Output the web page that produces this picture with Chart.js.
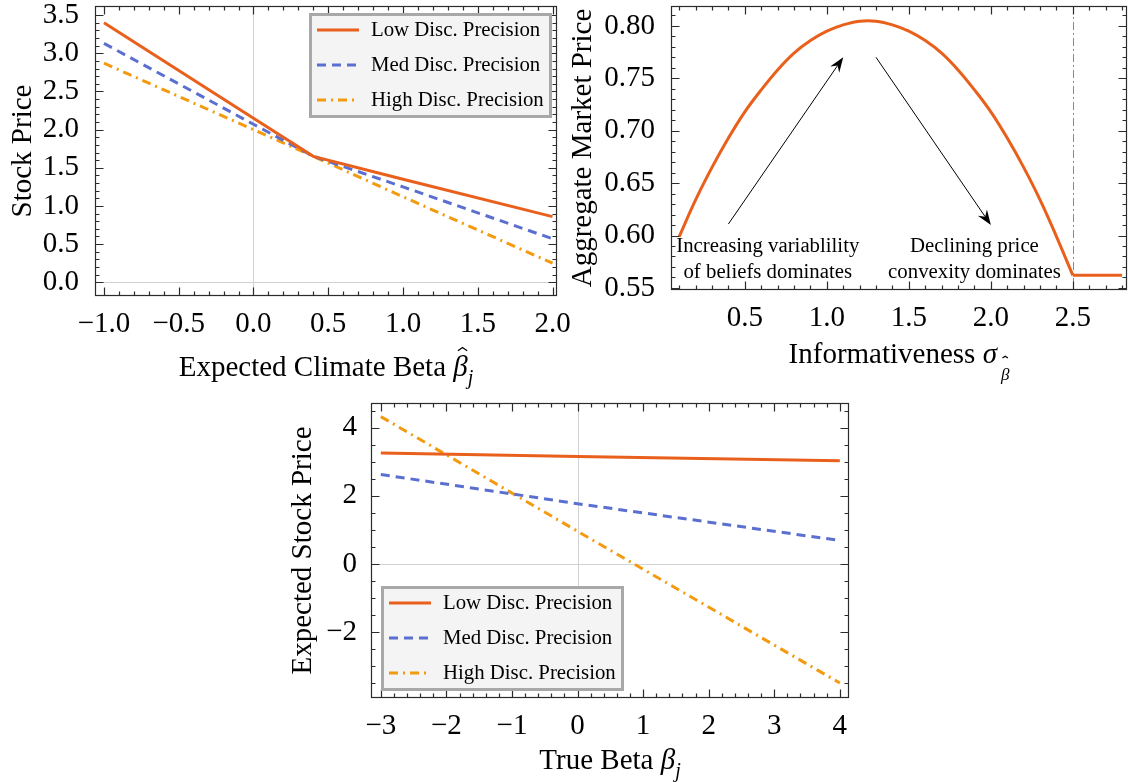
<!DOCTYPE html>
<html lang="en">
<head>
<meta charset="UTF-8">
<title>Disclosure Precision and Prices</title>
<script src="https://cdn.jsdelivr.net/npm/chart.js"></script>
<style>
  body { margin: 0; background: #fff; width: 1128px; height: 782px; position: relative; overflow: hidden; }
  canvas { position: absolute; }
  #priceChart { left: 0; top: 0; }
  #marketChart { left: 570px; top: 0; }
  #expectedChart { left: 280px; top: 400px; }
</style>
</head>
<body>
<canvas id="priceChart" width="580" height="390"></canvas>
<canvas id="marketChart" width="558" height="390"></canvas>
<canvas id="expectedChart" width="580" height="382"></canvas>
<script>
const SERIF = '"Liberation Serif", "Times New Roman", serif';
const FONT_SIZE = 29;

const seriesNames = ['Low Disc. Precision', 'Med Disc. Precision', 'High Disc. Precision'];
const seriesColors = ['#e8601c', '#5b6fd0', '#f39a0e'];
const seriesDash = [[], [9, 6], [9, 5, 2, 5]];

// top left: stock price vs expected climate beta
const betaHat = [-1, 0, 0.4, 1, 2];
const priceLow = [3.40, 2.15, 1.65, 1.35, 0.86];
const priceMed = [3.13, 2.07, 1.65, 1.25, 0.57];
const priceHigh = [2.87, 2.00, 1.65, 1.12, 0.25];
const priceXTicks = [-1, -0.5, 0, 0.5, 1, 1.5, 2];
const priceYTicks = [0, 0.5, 1, 1.5, 2, 2.5, 3, 3.5];

// top right: aggregate market price vs informativeness
const sigma = [0.1, 0.2, 0.3, 0.4, 0.5, 0.6, 0.7, 0.8, 0.9, 1.0, 1.1, 1.2, 1.3,
  1.4, 1.5, 1.6, 1.7, 1.8, 1.9, 2.0, 2.1, 2.2, 2.3, 2.4, 2.5];
const marketPrice = [0.599, 0.634, 0.665, 0.693, 0.718, 0.739, 0.758, 0.774, 0.786, 0.795,
  0.801, 0.8045, 0.8045, 0.801, 0.795, 0.786, 0.774, 0.758, 0.739, 0.718, 0.693, 0.665,
  0.634, 0.599, 0.562];
const floorSigma = [2.5, 2.8];
const floorPrice = [0.562, 0.562];
const sigmaCutoff = 2.5;
const marketXTicks = [0.5, 1, 1.5, 2, 2.5];
const marketYTicks = [0.55, 0.6, 0.65, 0.7, 0.75, 0.8];
const arrowTails = [[0.40, 0.611], [1.30, 0.770]];
const arrowHeads = [[1.10, 0.770], [2.00, 0.610]];
const noteAnchors = [[0.64, 0.589], [1.90, 0.589]];
const noteLines = [['Increasing variablility', 'of beliefs dominates'], ['Declining price', 'convexity dominates']];

// bottom: expected stock price vs true beta
const trueBeta = [-3, 0, 4];
const expLow = [3.26, 3.16, 3.03];
const expMed = [2.63, 1.77, 0.69];
const expHigh = [4.33, 0.96, -3.50];
const expXTicks = [-3, -2, -1, 0, 1, 2, 3, 4];
const expYTicks = [-2, 0, 2, 4];

function fmt(v, d) {
  return v.toFixed(d).replace('-', '\u2212');
}

function steps(from, to, step) {
  const out = [];
  for (let v = from; v <= to + 1e-9; v += step) out.push(Math.round(v * 1000) / 1000);
  return out;
}

function points(xs, ys) {
  return xs.map((x, i) => ({ x, y: ys[i] }));
}

function richFont(p, base) {
  return (p.italic ? 'italic ' : '') + (p.size || base) + 'px ' + SERIF;
}

function drawRich(ctx, parts, cx, baseline, base) {
  const widths = parts.map(p => { ctx.font = richFont(p, base); return ctx.measureText(p.t).width + (p.gap || 0); });
  let x = cx - widths.reduce((s, w) => s + w, 0) / 2;
  ctx.textAlign = 'left';
  ctx.textBaseline = 'alphabetic';
  ctx.fillStyle = '#000';
  parts.forEach((p, i) => {
    const size = p.size || base;
    const y = baseline + (p.dy || 0);
    ctx.font = richFont(p, base);
    ctx.fillText(p.t, x, y);
    if (p.hatRise) {
      const hx = x + widths[i] / 2 + (p.hatShift || 0), hy = y - p.hatRise * size;
      ctx.beginPath();
      ctx.moveTo(hx - 0.16 * size, hy + 0.11 * size);
      ctx.lineTo(hx, hy);
      ctx.lineTo(hx + 0.16 * size, hy + 0.11 * size);
      ctx.lineWidth = 1.3;
      ctx.strokeStyle = '#000';
      ctx.stroke();
    }
    x += widths[i];
  });
}

function titlesPlugin(xParts, yParts, xBaseline, yBaseline) {
  return {
    id: 'titles',
    afterDraw(chart) {
      const { ctx, chartArea: a } = chart;
      ctx.save();
      drawRich(ctx, xParts, (a.left + a.right) / 2, xBaseline, FONT_SIZE);
      ctx.translate(yBaseline, (a.top + a.bottom) / 2);
      ctx.rotate(-Math.PI / 2);
      drawRich(ctx, yParts, 0, 0, FONT_SIZE);
      ctx.restore();
    }
  };
}

function framePlugin(xMinor, yMinor, cutX) {
  return {
    id: 'frame',
    beforeDatasetsDraw(chart) {
      const { ctx, chartArea: a, scales: { x, y } } = chart;
      ctx.save();
      ctx.lineWidth = 1;
      ctx.strokeStyle = '#d2d2d2';
      if (x.min < 0 && x.max > 0) {
        const px = Math.round(x.getPixelForValue(0)) + 0.5;
        ctx.beginPath(); ctx.moveTo(px, a.top); ctx.lineTo(px, a.bottom); ctx.stroke();
      }
      if (y.min < 0 && y.max > 0) {
        const py = Math.round(y.getPixelForValue(0)) + 0.5;
        ctx.beginPath(); ctx.moveTo(a.left, py); ctx.lineTo(a.right, py); ctx.stroke();
      }
      if (cutX != null) {
        const px = Math.round(x.getPixelForValue(cutX)) + 0.5;
        ctx.strokeStyle = '#8a8a8a';
        ctx.setLineDash([8, 3, 2, 3]);
        ctx.beginPath(); ctx.moveTo(px, a.top); ctx.lineTo(px, a.bottom); ctx.stroke();
      }
      ctx.restore();
    },
    afterDatasetsDraw(chart) {
      const { ctx, chartArea: a, scales: { x, y } } = chart;
      ctx.save();
      ctx.strokeStyle = '#2b2b2b';
      ctx.lineWidth = 1.2;
      const L = Math.round(a.left) + 0.5, R = Math.round(a.right) - 0.5;
      const T = Math.round(a.top) + 0.5, B = Math.round(a.bottom) - 0.5;
      ctx.strokeRect(L, T, R - L, B - T);
      ctx.beginPath();
      const xTick = (v, len) => {
        const px = Math.round(x.getPixelForValue(v)) + 0.5;
        ctx.moveTo(px, B); ctx.lineTo(px, B - len);
        ctx.moveTo(px, T); ctx.lineTo(px, T + len);
      };
      const yTick = (v, len) => {
        const py = Math.round(y.getPixelForValue(v)) + 0.5;
        ctx.moveTo(L, py); ctx.lineTo(L + len, py);
        ctx.moveTo(R, py); ctx.lineTo(R - len, py);
      };
      xMinor.filter(v => v > x.min && v < x.max).forEach(v => xTick(v, 4));
      yMinor.filter(v => v > y.min && v < y.max).forEach(v => yTick(v, 4));
      x.ticks.forEach(t => xTick(t.value, 8));
      y.ticks.forEach(t => yTick(t.value, 8));
      ctx.stroke();
      ctx.restore();
    }
  };
}

function legendPlugin(left, top) {
  return {
    id: 'boxLegend',
    afterDatasetsDraw(chart) {
      const ctx = chart.ctx;
      ctx.save();
      ctx.fillStyle = '#f4f4f4';
      ctx.fillRect(left, top, 243, 105);
      ctx.strokeStyle = '#a8a8a8';
      ctx.lineWidth = 3;
      ctx.strokeRect(left + 1.5, top + 1.5, 240, 102);
      chart.data.datasets.forEach((ds, i) => {
        const y = top + 17 + i * 35;
        ctx.strokeStyle = ds.borderColor;
        ctx.lineWidth = 3;
        ctx.setLineDash(ds.borderDash);
        ctx.beginPath(); ctx.moveTo(left + 8, y); ctx.lineTo(left + 50, y); ctx.stroke();
        ctx.setLineDash([]);
        ctx.fillStyle = '#000';
        ctx.font = '20.8px ' + SERIF;
        ctx.textAlign = 'left';
        ctx.textBaseline = 'middle';
        ctx.fillText(ds.label, left + 62, y + 1);
      });
      ctx.restore();
    }
  };
}

const notesPlugin = {
  id: 'notes',
  afterDatasetsDraw(chart) {
    const { ctx, scales: { x, y } } = chart;
    ctx.save();
    ctx.strokeStyle = '#000';
    ctx.fillStyle = '#000';
    ctx.lineWidth = 1;
    arrowTails.forEach((tail, i) => {
      const x0 = x.getPixelForValue(tail[0]), y0 = y.getPixelForValue(tail[1]);
      const x1 = x.getPixelForValue(arrowHeads[i][0]), y1 = y.getPixelForValue(arrowHeads[i][1]);
      const ang = Math.atan2(y1 - y0, x1 - x0);
      const c = Math.cos(ang), s = Math.sin(ang);
      ctx.beginPath(); ctx.moveTo(x0, y0); ctx.lineTo(x1 - 10 * c, y1 - 10 * s); ctx.stroke();
      ctx.beginPath();
      ctx.moveTo(x1, y1);
      ctx.lineTo(x1 - 15 * c + 5.5 * s, y1 - 15 * s - 5.5 * c);
      ctx.lineTo(x1 - 10 * c, y1 - 10 * s);
      ctx.lineTo(x1 - 15 * c - 5.5 * s, y1 - 15 * s + 5.5 * c);
      ctx.closePath();
      ctx.fill();
    });
    ctx.font = '20.8px ' + SERIF;
    ctx.textAlign = 'center';
    ctx.textBaseline = 'middle';
    noteAnchors.forEach((anchor, i) => {
      const px = x.getPixelForValue(anchor[0]), py = y.getPixelForValue(anchor[1]);
      noteLines[i].forEach((line, j) => ctx.fillText(line, px, py + j * 26));
    });
    ctx.restore();
  }
};

function lineSet(label, data, i, extra) {
  return Object.assign({
    label,
    data,
    borderColor: seriesColors[i],
    borderDash: seriesDash[i],
    borderWidth: 3,
    pointRadius: 0,
    fill: false,
    tension: 0
  }, extra || {});
}

function axis(min, max, ticks, digits, size, pad, horizontal) {
  return {
    type: 'linear',
    bounds: 'data',
    min,
    max,
    afterBuildTicks: s => { s.ticks = ticks.map(v => ({ value: v })); },
    afterFit: s => {
      if (horizontal) s.height = size; else s.width = size;
      // keep the plot frame where it is; labels may run into the margins
      s.paddingTop = s.paddingBottom = s.paddingLeft = s.paddingRight = 0;
    },
    grid: { display: false },
    border: { display: false },
    ticks: {
      autoSkip: false,
      maxRotation: 0,
      padding: pad,
      color: '#000',
      font: { family: SERIF, size: FONT_SIZE },
      callback: v => fmt(v, digits)
    }
  };
}

const baseOptions = (layoutPadding, xScale, yScale) => ({
  responsive: false,
  animation: false,
  devicePixelRatio: 1,
  layout: { padding: layoutPadding },
  plugins: { legend: { display: false }, tooltip: { enabled: false } },
  scales: { x: xScale, y: yScale }
});

new Chart(document.getElementById('priceChart'), {
  type: 'line',
  data: {
    datasets: [
      lineSet(seriesNames[0], points(betaHat, priceLow), 0),
      lineSet(seriesNames[1], points(betaHat, priceMed), 1),
      lineSet(seriesNames[2], points(betaHat, priceHigh), 2)
    ]
  },
  options: baseOptions({ top: 6, right: 23, left: 0, bottom: 0 },
    axis(-1.06, 2.03, priceXTicks, 1, 94, 3, true),
    axis(-0.18, 3.62, priceYTicks, 1, 95, 8, false)),
  plugins: [
    framePlugin(steps(-1, 2, 0.1), steps(0, 3.5, 0.1), null),
    legendPlugin(309, 13),
    titlesPlugin(
      [{ t: 'Expected Climate Beta ' }, { t: '\u03b2', italic: true, hatRise: 0.98, hatShift: 2 }, { t: 'j', italic: true, size: 20, dy: 8 }],
      [{ t: 'Stock Price' }], 376, 31)
  ]
});

new Chart(document.getElementById('marketChart'), {
  type: 'line',
  data: {
    datasets: [
      lineSet('Aggregate Market Price', points(sigma, marketPrice), 0, { tension: 0.4 }),
      lineSet('Price floor', points(floorSigma, floorPrice), 0)
    ]
  },
  options: baseOptions({ top: 6, right: 1, left: 0, bottom: 0 },
    axis(0.05, 2.83, marketXTicks, 1, 100, 3, true),
    axis(0.548, 0.819, marketYTicks, 2, 101, 8, false)),
  plugins: [
    framePlugin(steps(0.1, 2.8, 0.1), steps(0.55, 0.81, 0.01), sigmaCutoff),
    notesPlugin,
    titlesPlugin(
      [{ t: 'Informativeness ' }, { t: '\u03c3', italic: true, gap: 4 }, { t: '\u03b2', italic: true, size: 17, dy: 17, hatRise: 1.4 }],
      [{ t: 'Aggregate Market Price' }], 363, 21)
  ]
});

new Chart(document.getElementById('expectedChart'), {
  type: 'line',
  data: {
    datasets: [
      lineSet(seriesNames[0], points(trueBeta, expLow), 0),
      lineSet(seriesNames[1], points(trueBeta, expMed), 1),
      lineSet(seriesNames[2], points(trueBeta, expHigh), 2)
    ]
  },
  options: baseOptions({ top: 3, right: 11, left: 0, bottom: 0 },
    axis(-3.15, 4.14, expXTicks, 0, 84, 3, true),
    axis(-3.94, 4.73, expYTicks, 0, 91, 6, false)),
  plugins: [
    framePlugin(steps(-3, 4, 0.2), steps(-3.5, 4.5, 0.5), null),
    legendPlugin(101, 186),
    titlesPlugin(
      [{ t: 'True Beta ' }, { t: '\u03b2', italic: true }, { t: 'j', italic: true, size: 20, dy: 8 }],
      [{ t: 'Expected Stock Price' }], 369, 31)
  ]
});
</script>
</body>
</html>
